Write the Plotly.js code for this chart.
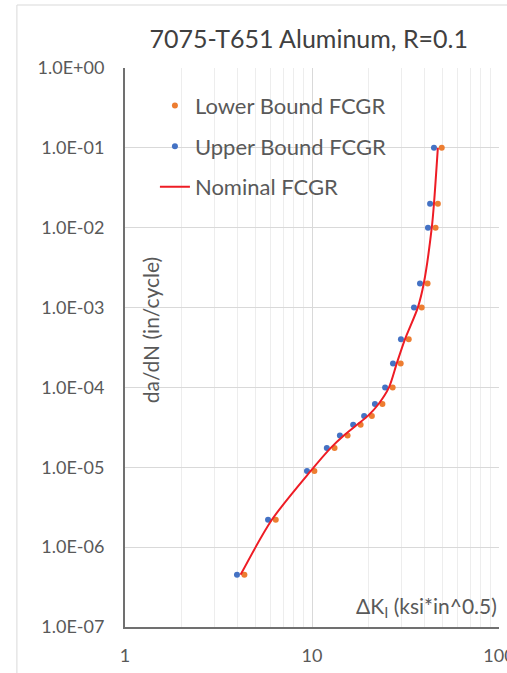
<!DOCTYPE html>
<html>
<head>
<meta charset="utf-8">
<script src="https://cdn.plot.ly/plotly-3.0.1.min.js"></script>
<style>
  html, body { margin: 0; padding: 0; background: #ffffff; }
  #chart { width: 507px; height: 673px; }
</style>
</head>
<body>
<div id="chart"></div>
<script>
// Crack growth rate da/dN (in/cycle), shared by all three curves
const dadN = [4.5e-7, 2.2e-6, 9e-6, 1.75e-5, 2.5e-5, 3.4e-5, 4.4e-5, 6.2e-5,
              1e-4, 2e-4, 4e-4, 1e-3, 2e-3, 1e-2, 2e-2, 1e-1];

// Stress intensity range ΔK (ksi*in^0.5) for each curve
const lowerK   = [4.35, 6.4, 10.3, 13.2, 15.5, 18.2, 20.9, 23.8,
                  27.0, 29.8, 32.9, 38.6, 41.5, 45.8, 47.1, 49.4];
const upperK   = [3.97, 5.82, 9.4, 12.0, 14.1, 16.6, 19.0, 21.7,
                  24.6, 27.1, 29.9, 35.1, 37.8, 41.7, 42.8, 44.9];
const nominalK = [4.15, 6.1, 9.85, 12.6, 14.8, 17.4, 19.9, 22.7,
                  25.8, 28.4, 31.4, 36.8, 39.6, 43.7, 44.9, 47.1];

const seriesNames = ['Lower Bound FCGR', 'Upper Bound FCGR', 'Nominal FCGR'];

// Axis ticks
const yTickVals = [1e0, 1e-1, 1e-2, 1e-3, 1e-4, 1e-5, 1e-6, 1e-7];
const yTickText = ['1.0E+00', '1.0E-01', '1.0E-02', '1.0E-03',
                   '1.0E-04', '1.0E-05', '1.0E-06', '1.0E-07'];
const xTickVals = [1, 10, 100];
const xTickText = ['1', '10', '100'];

const FONT = 'Lato, "Open Sans", sans-serif';
const TEXT = '#595959';

const traces = [
  {
    x: lowerK, y: dadN, name: seriesNames[0], type: 'scatter', mode: 'markers',
    legendgroup: 'a',
    marker: { color: '#ed7d31', size: 6 }
  },
  {
    x: upperK, y: dadN, name: seriesNames[1], type: 'scatter', mode: 'markers',
    legendgroup: 'b',
    marker: { color: '#4472c4', size: 6 }
  },
  {
    x: nominalK, y: dadN, name: seriesNames[2], type: 'scatter', mode: 'lines',
    legendgroup: 'c',
    line: { color: '#ee1c25', width: 2, shape: 'spline', smoothing: 0.8 }
  }
];

const layout = {
  width: 507,
  height: 673,
  margin: { l: 125, r: 8, t: 68, b: 46 },
  paper_bgcolor: '#ffffff',
  plot_bgcolor: '#ffffff',
  font: { family: FONT, color: TEXT, size: 16 },
  showlegend: true,
  title: {
    text: '7075-T651 Aluminum, R=0.1',
    font: { family: FONT, size: 25, color: '#404040' },
    x: 0.609, xanchor: 'center',
    y: 0.942, yanchor: 'middle'
  },
  xaxis: {
    type: 'log',
    range: [0, 2],
    tickvals: xTickVals,
    ticktext: xTickText,
    tickfont: { family: FONT, size: 18, color: TEXT },
    ticks: '',
    ticklabelstandoff: 11,
    ticklabeloverflow: 'allow',
    showgrid: true,
    gridcolor: '#d9d9d9',
    gridwidth: 1,
    minor: { dtick: 'D1', showgrid: true, gridcolor: '#ededed', gridwidth: 1, ticks: '' },
    showline: true,
    linecolor: '#707070',
    linewidth: 2,
    zeroline: false,
    fixedrange: true
  },
  yaxis: {
    type: 'log',
    range: [-7, 0],
    tickvals: yTickVals,
    ticktext: yTickText,
    tickfont: { family: FONT, size: 18, color: TEXT },
    ticks: '',
    ticklabelstandoff: 15,
    showgrid: true,
    gridcolor: '#d9d9d9',
    gridwidth: 1,
    showline: true,
    linecolor: '#707070',
    linewidth: 2,
    zeroline: false,
    fixedrange: true
  },
  legend: {
    x: 0.08, xanchor: 'left',
    y: 0.97, yanchor: 'top',
    bgcolor: 'rgba(255,255,255,0)',
    font: { family: FONT, size: 22, color: TEXT },
    traceorder: 'grouped',
    tracegroupgap: 9
  },
  annotations: [
    {
      text: 'da/dN (in/cycle)',
      xref: 'paper', yref: 'paper',
      x: 0.067, y: 0.531,
      xanchor: 'center', yanchor: 'middle',
      textangle: -90,
      showarrow: false,
      font: { family: FONT, size: 21, color: TEXT }
    },
    {
      text: 'ΔK<sub>I</sub> (ksi*in^0.5)',
      xref: 'paper', yref: 'paper',
      x: 1.0, y: 0.036,
      xanchor: 'right', yanchor: 'middle',
      showarrow: false,
      font: { family: FONT, size: 21, color: TEXT }
    }
  ],
  shapes: [
    {
      // chart frame (left and top edges)
      type: 'path',
      xref: 'paper', yref: 'paper',
      path: 'M -0.289,-0.09 L -0.289,1.1127 L 1.2,1.1127',
      line: { color: '#d9d9d9', width: 1 }
    }
  ]
};

Plotly.newPlot('chart', traces, layout, { displayModeBar: false, staticPlot: true });
</script>
</body>
</html>
